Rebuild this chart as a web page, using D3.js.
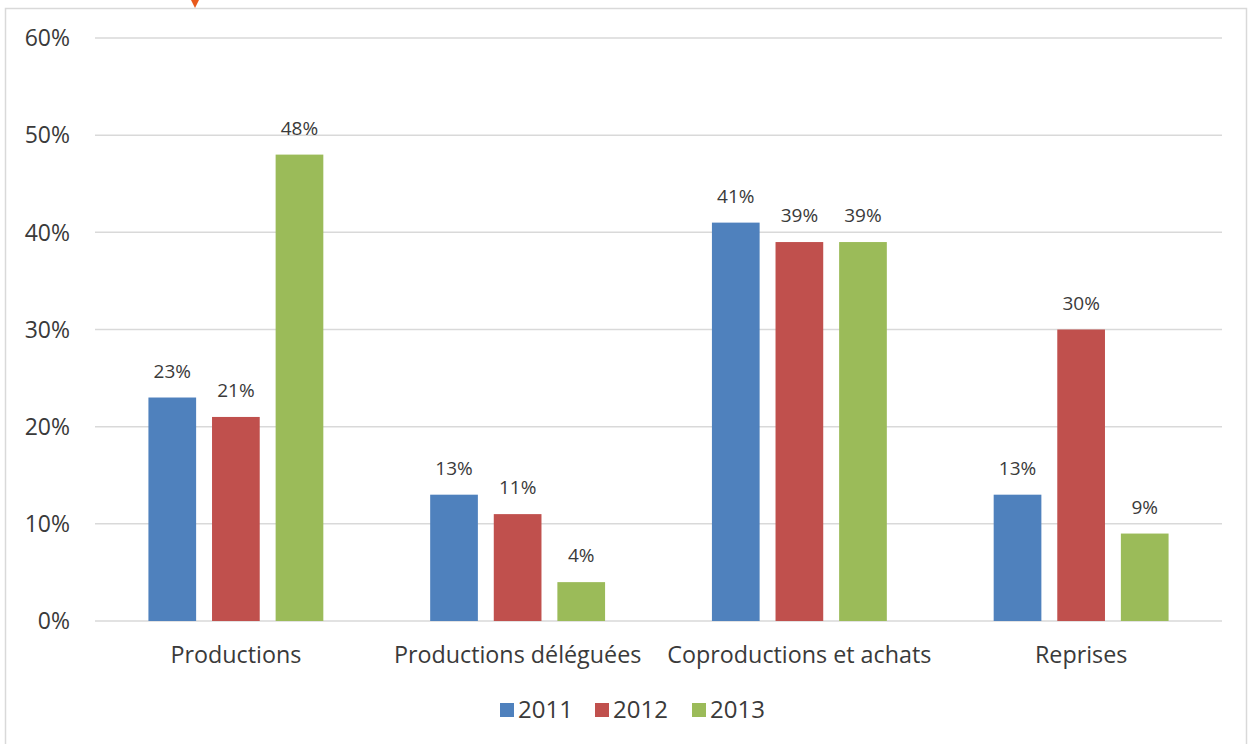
<!DOCTYPE html>
<html>
<head>
<meta charset="utf-8">
<script src="https://cdn.jsdelivr.net/npm/d3@7/dist/d3.min.js"></script>
<style>
  html, body { margin: 0; padding: 0; background: #fff; }
  svg { display: block; }
  text { font-family: "Open Sans", "Noto Sans", sans-serif; fill: #3a3a3a; }
</style>
</head>
<body>
<svg id="chart" width="1251" height="744"></svg>
<script>
// Share of programme types by year (%)
const categories = ["Productions", "Productions déléguées", "Coproductions et achats", "Reprises"];
const years = ["2011", "2012", "2013"];
const values2011 = [23, 13, 41, 13];
const values2012 = [21, 11, 39, 30];
const values2013 = [48, 4, 39, 9];
const yTicks = [0, 10, 20, 30, 40, 50, 60];
const colors = ["#4F81BD", "#C0504D", "#9BBB59"];

const seriesValues = [values2011, values2012, values2013];
const rows = categories.map((c, i) => ({
  category: c,
  bars: years.map((y, j) => ({ year: y, value: seriesValues[j][i], color: colors[j] }))
}));

const svg = d3.select("#chart");

// frame around the chart area
svg.append("rect")
  .attr("x", 5.5).attr("y", 8.5)
  .attr("width", 1241).attr("height", 760)
  .attr("fill", "#fff")
  .attr("stroke", "#d9d9d9").attr("stroke-width", 1.5);

// small orange pointer at the top edge
svg.append("path")
  .attr("d", "M191,0 L199,0 L195,8 Z")
  .attr("fill", "#E8591C");

const plotLeft = 95, plotRight = 1222, plotTop = 38, plotBottom = 621;

const x0 = d3.scaleBand().domain(categories).range([plotLeft, plotRight]).paddingInner(0).paddingOuter(0);
const x1 = d3.scaleBand().domain(years).range([0, x0.bandwidth()]).paddingInner(0.25).paddingOuter(0.84);
const y = d3.scaleLinear().domain([0, 60]).range([plotBottom, plotTop]);

// horizontal gridlines
svg.append("g")
  .selectAll("line")
  .data(yTicks)
  .join("line")
  .attr("x1", plotLeft).attr("x2", plotRight)
  .attr("y1", d => y(d)).attr("y2", d => y(d))
  .attr("stroke", "#d9d9d9").attr("stroke-width", 1.5);

// y tick labels
svg.append("g")
  .selectAll("text")
  .data(yTicks)
  .join("text")
  .attr("x", 70)
  .attr("y", d => y(d))
  .attr("dy", "0.36em")
  .attr("text-anchor", "end")
  .attr("font-size", 23)
  .text(d => d + "%");

// bars and value labels
const groups = svg.append("g")
  .selectAll("g")
  .data(rows)
  .join("g")
  .attr("transform", d => `translate(${x0(d.category)},0)`);

groups.selectAll("rect")
  .data(d => d.bars)
  .join("rect")
  .attr("x", d => x1(d.year))
  .attr("y", d => y(d.value))
  .attr("width", x1.bandwidth())
  .attr("height", d => y(0) - y(d.value))
  .attr("fill", d => d.color);

groups.selectAll("text")
  .data(d => d.bars)
  .join("text")
  .attr("x", d => x1(d.year) + x1.bandwidth() / 2)
  .attr("y", d => y(d.value) - 20)
  .attr("text-anchor", "middle")
  .attr("font-size", 19)
  .text(d => d.value + "%");

// category labels
svg.append("g")
  .selectAll("text")
  .data(categories)
  .join("text")
  .attr("x", d => x0(d) + x0.bandwidth() / 2)
  .attr("y", 663)
  .attr("text-anchor", "middle")
  .attr("font-size", 23.3)
  .text(d => d);

// legend
const legendX = [500, 595, 692];
const legend = svg.append("g")
  .selectAll("g")
  .data(years)
  .join("g")
  .attr("transform", (d, i) => `translate(${legendX[i]},703)`);
legend.append("rect")
  .attr("width", 14).attr("height", 14)
  .attr("fill", (d, i) => colors[i]);
legend.append("text")
  .attr("x", 18).attr("y", 15)
  .attr("font-size", 24)
  .text(d => d);
</script>
</body>
</html>
